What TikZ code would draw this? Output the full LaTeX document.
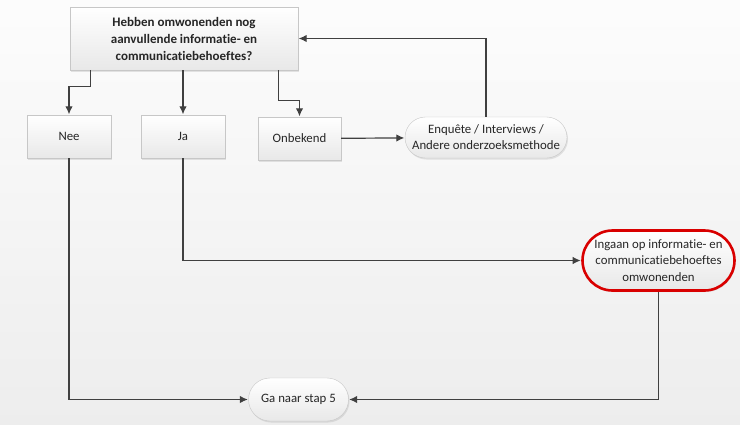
\documentclass[tikz,border=0pt]{standalone}
\usepackage{fontspec}
\setmainfont[Ligatures=NoCommon]{Carlito}
\usetikzlibrary{arrows.meta,shapes.misc,shadows}

\begin{document}
\begin{tikzpicture}
  [x=1pt,y=-1pt,
   line/.style={draw=black!75,line width=1.2pt},
   post/.style={line,-{Latex[length=8pt,width=7.5pt]},shorten >=0.5pt},
   box/.style={rectangle,draw=black!22,top color=white,bottom color=black!9,
     drop shadow={opacity=0.2,shadow xshift=1pt,shadow yshift=-1.5pt},
     align=center,inner sep=2pt,text=black!85,
     font=\fontsize{12.8}{16}\selectfont},
   pill/.style={box,rounded rectangle},
   red pill/.style={pill,draw=red!85!black,line width=2.6pt}]

  \useasboundingbox (0,0) rectangle (740,424);
  \fill[top color=black!1,bottom color=black!7] (0,0) rectangle (740,424);

  \node[box,minimum width=228pt,minimum height=63pt,
        font=\fontsize{13}{17}\selectfont\bfseries]
                  (question) at (184,38.5)  {Hebben omwonenden nog\\aanvullende informatie- en\\communicatiebehoeftes?};
  \node[box,minimum width=84pt,minimum height=43pt]  (nee)      at (69,136.5)  {Nee};
  \node[box,minimum width=84pt,minimum height=43pt]  (ja)       at (183,136.5) {Ja};
  \node[box,minimum width=83pt,minimum height=43pt]  (onbekend) at (299.5,138.5) {Onbekend};
  \node[pill,minimum width=166pt,minimum height=41pt] (enquete) at (486,137.5)
    {Enquête / Interviews /\\Andere onderzoeksmethode};
  \node[red pill,minimum width=156pt,minimum height=60pt,
        font=\fontsize{12.8}{16.5}\selectfont] (ingaan) at (658.5,260.5)
    {Ingaan op informatie- en\\communicatiebehoeftes\\omwonenden};
  \node[pill,minimum width=104pt,minimum height=43pt] (ganaar) at (298.5,399.5) {Ga naar stap 5};

  % vanuit de vraag
  \draw[post] ([xshift=21pt]question.south west) -- ++(0,16) -| (nee.north);
  \draw[post] (question.south -| ja.north) -- (ja.north);
  \draw[post] ([xshift=-20pt]question.south east) -- ++(0,30) -| (onbekend.north);

  % onbekend: eerst onderzoeken
  \draw[post] (onbekend) -- (enquete);
  \draw[post] (enquete.north) |- (question.east);

  % naar de vervolgstappen
  \draw[post] (ja.south) |- (ingaan.west);
  \draw[post] (nee.south) |- (ganaar.west);
  \draw[post] (ingaan.south) |- (ganaar.east);
\end{tikzpicture}
\end{document}
